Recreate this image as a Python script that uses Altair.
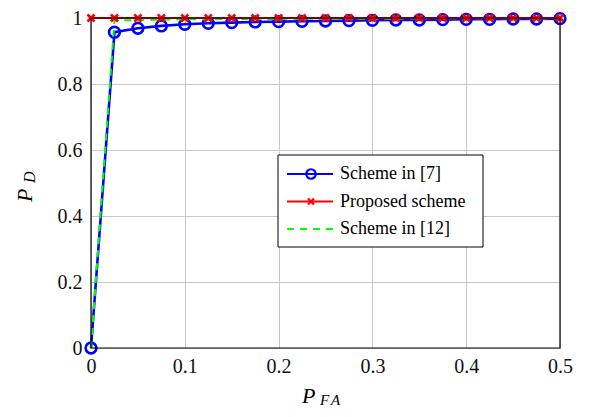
import altair as alt
import pandas as pd

pfa = [0, 0.025, 0.05, 0.075, 0.1, 0.125, 0.15, 0.175, 0.2, 0.225, 0.25,
       0.275, 0.3, 0.325, 0.35, 0.375, 0.4, 0.425, 0.45, 0.475, 0.5]
scheme7 = [0, 0.957, 0.969, 0.976, 0.981, 0.984, 0.986, 0.988, 0.989, 0.990, 0.991,
           0.992, 0.993, 0.994, 0.994, 0.995, 0.996, 0.996, 0.997, 0.997, 0.998]
proposed = [1.0] * 21
scheme12 = [0, 0.992, 0.994, 0.995, 0.996, 0.996, 0.997, 0.997, 0.997, 0.998, 0.998,
            0.998, 0.998, 0.998, 0.999, 0.999, 0.999, 0.999, 0.999, 0.999, 0.999]

x_ticks = [0, 0.1, 0.2, 0.3, 0.4, 0.5]
y_ticks = [0, 0.2, 0.4, 0.6, 0.8, 1.0]
legend_labels = ["Scheme in [7]", "Proposed scheme", "Scheme in [12]"]

W, H = 469, 330
FONT = "Liberation Serif"

df = pd.DataFrame({"x": pfa, "s7": scheme7, "prop": proposed, "s12": scheme12})

xs = alt.Scale(domain=[0, 0.5], nice=False, zero=False)
ys = alt.Scale(domain=[0, 1], nice=False, zero=False)

xax = alt.Axis(values=x_ticks, title=None, grid=True, gridColor="#c8c8c8", gridWidth=1,
               labelFont=FONT, labelFontSize=20, labelColor="#111", labelPadding=8,
               labelFlush=False, tickSize=0, domain=False,
               labelExpr="datum.value == 0 ? '0' : format(datum.value, '.1f')")
yax = alt.Axis(values=y_ticks, title=None, grid=True, gridColor="#c8c8c8", gridWidth=1,
               labelFont=FONT, labelFontSize=20, labelColor="#111", labelPadding=9,
               labelFlush=False, tickSize=0, domain=False,
               labelExpr="datum.value == 0 ? '0' : datum.value == 1 ? '1' : format(datum.value, '.1f')")

base = alt.Chart(df)

grid = base.mark_point(opacity=0).encode(
    x=alt.X("x:Q", scale=xs, axis=xax),
    y=alt.Y("s7:Q", scale=ys, axis=yax),
)

blue_line = base.mark_line(color="#0000ff", strokeWidth=2.6, clip=False).encode(
    x=alt.X("x:Q", scale=xs), y=alt.Y("s7:Q", scale=ys))
blue_pts = base.mark_point(shape="circle", size=115, stroke="#0000ff", strokeWidth=2.6,
                           filled=False, opacity=1, clip=False).encode(
    x=alt.X("x:Q", scale=xs), y=alt.Y("s7:Q", scale=ys))
green_line = base.mark_line(color="#00ff00", strokeWidth=2, strokeDash=[7, 6], clip=False).encode(
    x=alt.X("x:Q", scale=xs), y=alt.Y("s12:Q", scale=ys))
red_line = base.mark_line(color="#ff0000", strokeWidth=2, clip=False).encode(
    x=alt.X("x:Q", scale=xs), y=alt.Y("prop:Q", scale=ys))
xshape = "M-1,-1L1,1M1,-1L-1,1"
red_pts = base.mark_point(shape=xshape, size=50, stroke="#ff0000", strokeWidth=2.6,
                          filled=False, opacity=1, clip=False).encode(
    x=alt.X("x:Q", scale=xs), y=alt.Y("prop:Q", scale=ys))

one = pd.DataFrame({"a": [0]})

frame = alt.Chart(one).mark_rect(
    fill=None, stroke="black", strokeWidth=1.2).encode(
    x=alt.value(0), x2=alt.value(W), y=alt.value(0), y2=alt.value(H))

# Legend box (plot-relative pixel positions)
LX, LY, LW, LH = 187, 137, 205, 92
leg_box = alt.Chart(one).mark_rect(
    fill="white", stroke="black", strokeWidth=1).encode(
    x=alt.value(LX), x2=alt.value(LX + LW), y=alt.value(LY), y2=alt.value(LY + LH))

def leg_entry(i, color, dash, shape):
    yy = LY + 19 + i * 27.5
    layers = []
    rule_kwargs = dict(color=color, strokeWidth=2)
    if dash:
        rule_kwargs["strokeDash"] = [7, 6]
    layers.append(alt.Chart(one).mark_rule(**rule_kwargs).encode(
        x=alt.value(LX + 9), x2=alt.value(LX + 55), y=alt.value(yy)))
    if shape == "circle":
        layers.append(alt.Chart(one).mark_point(
            shape="circle", size=90, stroke=color, strokeWidth=2.2, filled=False, opacity=1).encode(
            x=alt.value(LX + 33), y=alt.value(yy)))
    elif shape == "x":
        layers.append(alt.Chart(one).mark_point(
            shape=xshape, size=36, stroke=color, strokeWidth=2.2, filled=False, opacity=1).encode(
            x=alt.value(LX + 33), y=alt.value(yy)))
    layers.append(alt.Chart(pd.DataFrame({"t": [legend_labels[i]]})).mark_text(
        font=FONT, fontSize=18, align="left", baseline="middle", color="black").encode(
        text="t:N", x=alt.value(LX + 62), y=alt.value(yy)))
    return layers

legend_layers = [leg_box]
legend_layers += leg_entry(0, "#0000ff", False, "circle")
legend_layers += leg_entry(1, "#ff0000", False, "x")
legend_layers += leg_entry(2, "#00ff00", True, None)

def txt(s, x, y, size, angle=0, align="left"):
    kw = dict(font=FONT, fontSize=size, fontStyle="italic", align=align,
              baseline="alphabetic", color="black")
    if angle:
        kw["angle"] = angle
    return alt.Chart(pd.DataFrame({"t": [s]})).mark_text(**kw).encode(
        text="t:N", x=alt.value(x), y=alt.value(y))

titles = [
    # x title P_FA
    txt("P", 211, 385, 22),
    txt("F", 229, 387, 15),
    txt("A", 240, 387, 15),
    # y title P_D rotated
    txt("P", -59, 184, 22, angle=270),
    txt("D", -56, 165, 16, angle=270),
]

chart = alt.layer(grid, blue_line, blue_pts, green_line, red_line, red_pts, frame,
                  *legend_layers, *titles).properties(
    width=W, height=H,
    autosize=alt.AutoSizeParams(type="none"),
    padding={"left": 83, "top": 10, "right": 21, "bottom": 61},
).configure_view(stroke=None)

chart.save("out.html", embed_options={"renderer": "svg", "actions": False})
